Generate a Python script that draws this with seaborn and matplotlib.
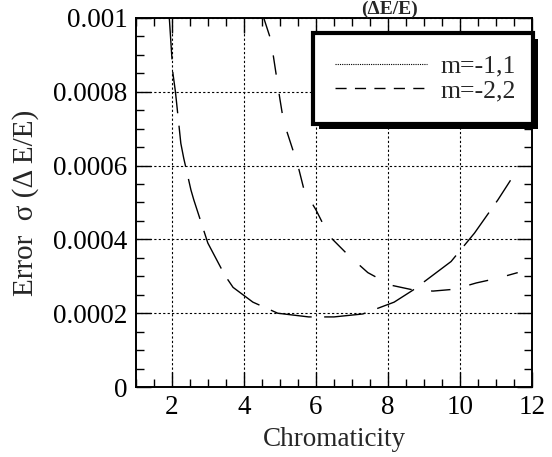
import pandas as pd
import matplotlib
matplotlib.use("Agg")
import matplotlib.pyplot as plt
import matplotlib.patheffects as pe
from matplotlib.lines import Line2D
from matplotlib.ticker import MultipleLocator, FuncFormatter
import seaborn as sns

# values
x_m1 = [1.93, 2.03, 2.1, 2.25, 2.33, 2.53, 2.61, 3.0, 3.47, 3.7, 4.25, 4.94,
        5.8, 6.5, 7.3, 8.17, 8.7, 9.75, 10.4, 11.05, 11.4]
y_m1 = [0.001, 0.00085, 0.0008, 0.00066, 0.00062, 0.000534, 0.000507, 0.00039,
        0.000303, 0.00027, 0.00023, 0.0002, 0.00019, 0.00019, 0.000198,
        0.00023, 0.000263, 0.00034, 0.000417, 0.000507, 0.00056]

x_m2 = [4.55, 4.75, 5.0, 5.1, 5.5, 5.67, 6.0, 6.36, 6.9, 7.44, 8.08, 8.7,
        9.25, 9.85, 10.45, 11.05, 11.6]
y_m2 = [0.001, 0.00094, 0.00078, 0.00072, 0.0006, 0.000534, 0.00048, 0.00041,
        0.000357, 0.00031, 0.000276, 0.000263, 0.00026, 0.000265, 0.000282,
        0.000295, 0.00031]

labels = ["m=-1,1", "m=-2,2"]
xticks = [2, 4, 6, 8, 10, 12]
yticks = [0, 0.0002, 0.0004, 0.0006, 0.0008, 0.001]

df = pd.concat([
    pd.DataFrame({"x": x_m1, "y": y_m1, "series": labels[0]}),
    pd.DataFrame({"x": x_m2, "y": y_m2, "series": labels[1]}),
])

sns.set_style("ticks")
plt.rcParams["font.family"] = ["Liberation Serif", "DejaVu Serif"]

fig = plt.figure(figsize=(5.52, 4.57), dpi=100)
ax = fig.add_axes([0.246, 0.153, 0.718, 0.808])

sns.lineplot(data=df, x="x", y="y", hue="series", style="series",
             palette={labels[0]: "black", labels[1]: "black"},
             dashes={labels[0]: (30, 9), labels[1]: (14, 14)},
             sort=False, estimator=None, linewidth=1.0, legend=False, ax=ax)

ax.set_xlim(1, 12)
ax.set_ylim(0, 0.001)
ax.set_xticks(xticks)
ax.set_yticks(yticks)
ax.xaxis.set_minor_locator(MultipleLocator(0.5))
ax.yaxis.set_minor_locator(MultipleLocator(0.00005))
ax.yaxis.set_major_formatter(FuncFormatter(lambda v, p: "0" if v == 0 else f"{v:.4f}".rstrip("0")))
ax.tick_params(which="both", direction="in", top=True, right=True,
               labelsize=19.5, colors="black", width=1)
ax.tick_params(which="major", length=11, pad=6)
ax.tick_params(which="minor", length=6)
for s in ax.spines.values():
    s.set_linewidth(1.4)
    s.set_color("black")

ax.grid(True, which="major", color="black", linestyle=(0, (2, 2)), linewidth=0.8)

ax.set_xlabel("Chromaticity", fontsize=19.5, labelpad=5)
ax.set_ylabel("Error  σ (Δ E/E)", fontsize=21, labelpad=10)

handles = [Line2D([], [], color="black", linestyle=(0, (1, 1)), linewidth=0.8),
           Line2D([], [], color="black", linestyle=(0, (8, 6)), linewidth=1.0)]
leg = ax.legend(handles, labels, loc="upper left", mode="expand",
                bbox_to_anchor=(0.447, 0.5, 0.555, 0.459), borderaxespad=0,
                fontsize=18.5, handlelength=3.6, handletextpad=0.5,
                borderpad=0.85, labelspacing=0.05, fancybox=False, framealpha=1)
frame = leg.get_frame()
frame.set_edgecolor("black")
frame.set_linewidth(3)
frame.set_path_effects([pe.SimplePatchShadow(offset=(4, -4), shadow_rgbFace="black", alpha=1.0),
                        pe.Normal()])

fig.text(390 / 552, 0.999, "(ΔE/E)", ha="center", va="top",
         fontsize=14, fontweight="bold")

fig.savefig("out.png", dpi=100)
